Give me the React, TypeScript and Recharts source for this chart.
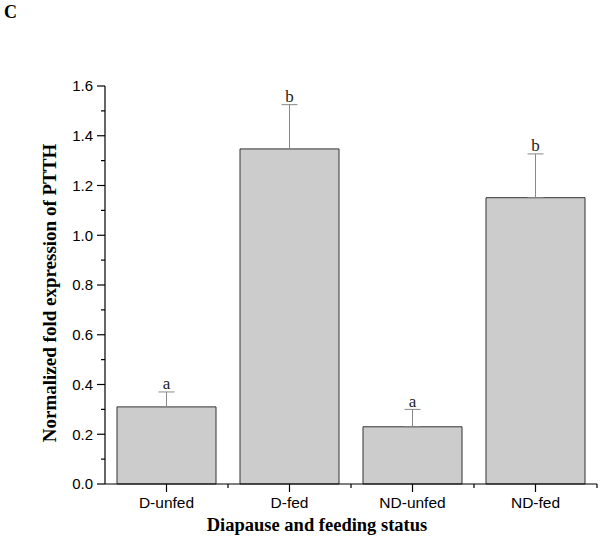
import {Bar, ComposedChart, ErrorBar, Label, LabelList, Line, XAxis, YAxis} from "recharts";

const groups = ["D-unfed", "D-fed", "ND-unfed", "ND-fed"];
const means = [0.31, 1.347, 0.23, 1.151];
const errUp = [0.06, 0.178, 0.07, 0.176];
const letters = ["a", "b", "a", "b"];
const yTicks = [0, 0.1, 0.2, 0.3, 0.4, 0.5, 0.6, 0.7, 0.8, 0.9, 1.0, 1.1, 1.2, 1.3, 1.4, 1.5, 1.6];

const data = groups.map((g, i) => ({
    name: g,
    mean: means[i],
    err: [0, errUp[i]],
    top: means[i] + errUp[i],
    letter: letters[i],
}));

const W = 603;
const H = 549;
const LEFT = 105;
const RIGHT = 6;
const BAND = (W - LEFT - RIGHT) / groups.length;

const sans = "'Liberation Sans', Arial, sans-serif";
const serif = "'Liberation Serif', 'Times New Roman', serif";

const YTick = (props: any) => {
    const {x, y, index, payload} = props;
    const major = index % 2 === 0;
    const axisX = x + 12;
    return (
        <g>
            <line x1={axisX - (major ? 8 : 4)} x2={axisX} y1={y} y2={y} stroke="#000" strokeWidth={1.2}/>
            {major && (
                <text x={x} y={y} dy="0.355em" textAnchor="end" fontFamily={sans} fontSize={15} fill="#000">
                    {Number(payload.value).toFixed(1)}
                </text>
            )}
        </g>
    );
};

const XTick = (props: any) => {
    const {x, y, payload} = props;
    const axisY = y - 13;
    return (
        <g>
            <line x1={x} x2={x} y1={axisY} y2={axisY + 8} stroke="#000" strokeWidth={1.2}/>
            <line x1={x + BAND / 2} x2={x + BAND / 2} y1={axisY} y2={axisY + 4} stroke="#000" strokeWidth={1.2}/>
            <text x={x} y={y} dy="0.71em" textAnchor="middle" fontFamily={sans} fontSize={15.5} fill="#000">
                {payload.value}
            </text>
        </g>
    );
};

const LetterLabel = (props: any) => {
    const {x, y, value} = props;
    return (
        <text x={x} y={y - 2.5} textAnchor="middle" fontFamily={serif} fontSize={17} fill="#222">
            {value}
        </text>
    );
};

const App = () => {
    return (
        <div style={{position: "absolute", left: 0, top: 0, width: W, height: H, background: "#fff"}}>
            <div style={{
                position: "absolute", left: 4, top: 3, fontFamily: serif, fontWeight: "bold",
                fontSize: 18, lineHeight: 1
            }}>C
            </div>
            <ComposedChart width={W} height={H} data={data} margin={{top: 86, right: RIGHT, bottom: 35, left: 0}}>
                <XAxis
                    dataKey="name"
                    height={30}
                    tickSize={8}
                    tickMargin={5}
                    tickLine={false}
                    tick={<XTick/>}
                    axisLine={{stroke: "#000", strokeWidth: 1.2}}
                    interval={0}
                >
                    <Label
                        value="Diapause and feeding status"
                        position="bottom"
                        offset={4}
                        dx={-34}
                        style={{fontFamily: serif, fontWeight: "bold", fontSize: 18.5, fill: "#000"}}
                    />
                </XAxis>
                <YAxis
                    width={LEFT}
                    domain={[0, 1.6]}
                    ticks={yTicks}
                    interval={0}
                    tickSize={8}
                    tickMargin={4}
                    tickLine={false}
                    tick={<YTick/>}
                    axisLine={{stroke: "#000", strokeWidth: 1.2}}
                >
                    <Label
                        content={(p: any) => {
                            const vb = p.viewBox;
                            const cx = vb.x + 49;
                            const cy = vb.y + vb.height / 2 + 8;
                            return (
                                <text x={cx} y={cy} dy="0.35em" textAnchor="middle" transform={`rotate(-90 ${cx} ${cy})`}
                                      fontFamily={serif} fontWeight="bold" fontSize={19} fill="#000">
                                    Normalized fold expression of PTTH
                                </text>
                            );
                        }}
                    />
                </YAxis>
                <Bar dataKey="mean" barSize={99} fill="#cccccc" stroke="#333" strokeWidth={1} isAnimationActive={false}>
                    <ErrorBar dataKey="err" direction="y" width={8} stroke="#888" strokeWidth={1} isAnimationActive={false}/>
                </Bar>
                <Line dataKey="top" stroke="none" dot={false} activeDot={false} isAnimationActive={false} legendType="none">
                    <LabelList dataKey="letter" content={<LetterLabel/>}/>
                </Line>
            </ComposedChart>
        </div>
    );
};

export default App;
